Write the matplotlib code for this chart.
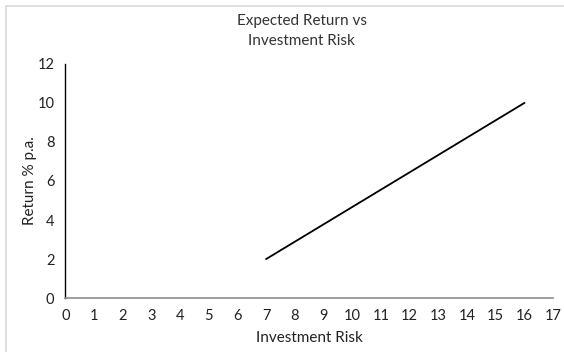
import matplotlib.pyplot as plt
from matplotlib.patches import Rectangle

# risk vs return line
risk = [7, 16]
ret = [2, 10]

x_ticks = list(range(0, 18))
y_ticks = [0, 2, 4, 6, 8, 10, 12]

plt.rcParams['font.family'] = ['Lato', 'DejaVu Sans']

fig = plt.figure(figsize=(5.64, 3.52), dpi=100)
ax = fig.add_axes([0.1161, 0.1534, 0.8644, 0.6648])

ax.plot(risk, ret, color="black", linewidth=1.3)

ax.set_xlim(0, 17)
ax.set_ylim(0, 12)
ax.set_xticks(x_ticks)
ax.set_yticks(y_ticks)
ax.tick_params(length=0, labelsize=10.5, colors="#222222", pad=8)

ax.spines['top'].set_visible(False)
ax.spines['right'].set_visible(False)
ax.spines['left'].set_color("black")
ax.spines['bottom'].set_color("#8c8c8c")
ax.spines['left'].set_linewidth(1.0)
ax.spines['bottom'].set_linewidth(1.2)

ax.set_xlabel("Investment Risk", fontsize=11, color="#222222", labelpad=6)
ax.set_ylabel("Return % p.a.", fontsize=11, color="#222222", labelpad=0)
fig.text(0.535, 0.912, "Expected Return vs\nInvestment Risk", ha="center", va="center",
         fontsize=11, color="#333333", linespacing=1.55)

# light chart-area border
fig.patches.append(Rectangle((6 / 564, -0.1), 1.2, 1 - 6 / 352 + 0.1,
                             transform=fig.transFigure, fill=False,
                             edgecolor="#d9d9d9", linewidth=1.2))

fig.savefig("out.png", dpi=100)
